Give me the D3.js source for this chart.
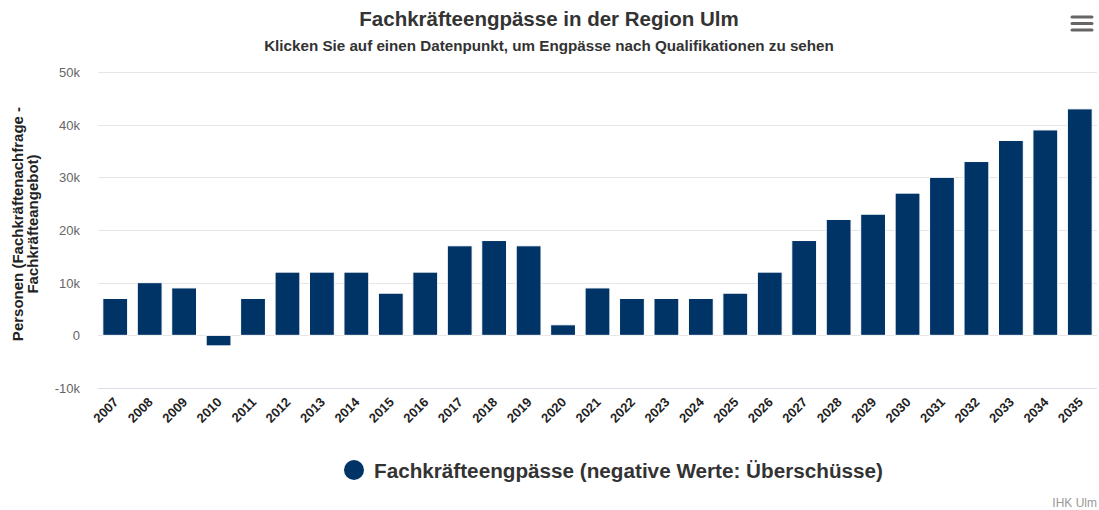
<!DOCTYPE html>
<html><head><meta charset="utf-8">
<script src="https://cdn.jsdelivr.net/npm/d3@7"></script>
<style>body{margin:0;background:#fff;} svg{display:block;font-family:"Liberation Sans",Arial,sans-serif;}</style>
</head><body><svg id="c" width="1099" height="510"></svg>
<script>
const years = ["2007","2008","2009","2010","2011","2012","2013","2014","2015","2016","2017","2018","2019","2020","2021","2022","2023","2024","2025","2026","2027","2028","2029","2030","2031","2032","2033","2034","2035"];
const values = [7000,10000,9000,-2000,7000,12000,12000,12000,8000,12000,17000,18000,17000,2000,9000,7000,7000,7000,8000,12000,18000,22000,23000,27000,30000,33000,37000,39000,43000];
const yTicks = [-10000,0,10000,20000,30000,40000,50000];
const yTickLabels = ["-10k","0","10k","20k","30k","40k","50k"];

(function(){
const svg = d3.select("#c");
const pL = 98, pR = 1097, pT = 72, pB = 388;
const x = d3.scaleBand().domain(years).range([pL, pR]).paddingInner(0.28).paddingOuter(0.14);
const y = d3.scaleLinear().domain([-10000, 50000]).range([pB, pT]);

// grid
svg.append("g").selectAll("line").data(yTicks).join("line")
  .attr("x1", pL).attr("x2", pR)
  .attr("y1", d => Math.round(y(d)) + 0.5).attr("y2", d => Math.round(y(d)) + 0.5)
  .attr("stroke", d => d === -10000 ? "#d8dde6" : "#e6e6e6").attr("stroke-width", 1);

// y labels
svg.append("g").selectAll("text").data(yTicks).join("text")
  .attr("x", 80).attr("y", d => y(d) + 5).attr("text-anchor", "end")
  .attr("font-size", 13).attr("fill", "#666")
  .text((d, i) => yTickLabels[i]);

// bars
svg.append("g").selectAll("rect").data(values).join("rect")
  .attr("x", (d, i) => x(years[i]))
  .attr("width", x.bandwidth())
  .attr("y", d => y(Math.max(0, d)))
  .attr("height", d => Math.abs(y(d) - y(0)))
  .attr("fill", "#003366").attr("stroke", "#fff").attr("stroke-width", 1);

// x labels
svg.append("g").selectAll("text").data(years).join("text")
  .attr("transform", d => `translate(${x(d) + x.bandwidth()/2 + 4},${pB + 15}) rotate(-45)`)
  .attr("text-anchor", "end").attr("font-size", 13).attr("font-weight", "bold").attr("fill", "#222")
  .text(d => d);

// y axis title
const yt = svg.append("text").attr("transform", "translate(23,224) rotate(-90)")
  .attr("text-anchor", "middle").attr("font-size", 15).attr("font-weight", "bold").attr("fill", "#222");
yt.append("tspan").attr("x", 0).attr("dy", 0).text("Personen (Fachkräftenachfrage -");
yt.append("tspan").attr("x", 0).attr("dy", 15).text("Fachkräfteangebot)");

// title
svg.append("text").attr("x", 549).attr("y", 26).attr("text-anchor", "middle")
  .attr("font-size", 20.5).attr("font-weight", "bold").attr("fill", "#333")
  .text("Fachkräfteengpässe in der Region Ulm");
svg.append("text").attr("x", 549).attr("y", 51).attr("text-anchor", "middle")
  .attr("font-size", 15.2).attr("font-weight", "bold").attr("fill", "#333")
  .text("Klicken Sie auf einen Datenpunkt, um Engpässe nach Qualifikationen zu sehen");

// menu icon
svg.append("g").selectAll("line").data([0,1,2]).join("line")
  .attr("x1", 1072).attr("x2", 1092)
  .attr("y1", d => 17 + d*6.5).attr("y2", d => 17 + d*6.5)
  .attr("stroke", "#666").attr("stroke-width", 3).attr("stroke-linecap", "round");

// legend
svg.append("circle").attr("cx", 354).attr("cy", 470).attr("r", 10).attr("fill", "#003366");
svg.append("text").attr("x", 374).attr("y", 478).attr("font-size", 20.7).attr("font-weight", "bold").attr("fill", "#333")
  .text("Fachkräfteengpässe (negative Werte: Überschüsse)");

// credits
svg.append("text").attr("x", 1097).attr("y", 507).attr("text-anchor", "end")
  .attr("font-size", 12).attr("fill", "#999").text("IHK Ulm");
})();
</script></body></html>
